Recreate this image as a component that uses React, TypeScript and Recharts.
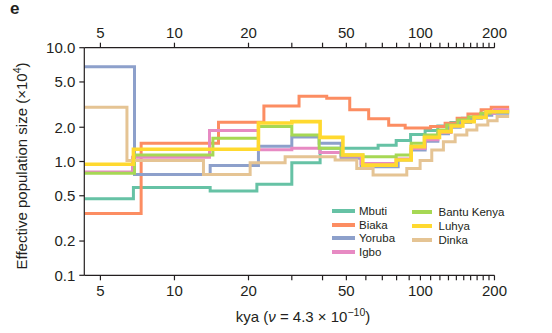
import React from 'react';
import { LineChart, Line, XAxis, YAxis, ReferenceLine } from 'recharts';

// [kya, Ne (x10^4)] step start points
const mbuti: [number, number][] = [[4.3,0.47],[6.81,0.59],[13.97,0.55],[21.63,0.63],[30.0,0.975],[39.1,1.31],[67.3,1.39],[79.7,1.53],[91.2,1.73],[104.5,1.87],[117.7,2.05],[133,2.2],[148,2.4],[165,2.55],[185,2.7],[210,2.8],[230,2.8]];
const biaka: [number, number][] = [[4.3,0.35],[7.32,1.45],[15.1,2.21],[23.1,3.07],[32.1,3.75],[41.6,3.6],[51.6,2.85],[61.6,2.37],[74.3,2.08],[86.7,1.97],[110,2.03],[126,2.17],[141,2.4],[156,2.62],[176.5,2.85],[194,3.0],[230,3.0]];
const yoruba: [number, number][] = [[4.3,6.8],[6.88,0.77],[13.97,0.92],[21.95,1.36],[30.0,1.64],[38.75,1.45],[47.6,1.07],[57.4,0.9],[81.2,1.03],[91.7,1.26],[104.5,1.51],[117.7,1.75],[130,2.0],[145,2.2],[160,2.4],[177,2.55],[195,2.65],[230,2.65]];
const igbo: [number, number][] = [[4.3,0.81],[6.75,1.09],[13.88,1.87],[21.95,1.27],[30,1.31],[39,1.2],[47.6,1.12],[57.4,0.96],[79.7,1.05],[91.7,1.3],[104.5,1.55],[117.7,1.8],[133,2.05],[148,2.25],[165,2.45],[185,2.65],[200,2.85],[230,2.85]];
const bantuKenya: [number, number][] = [[4.3,0.79],[6.88,1.14],[14.33,1.6],[21.95,2.03],[30,1.71],[38.75,1.31],[47.6,1.14],[58.3,1.1],[79.7,1.14],[91.7,1.45],[103.8,1.71],[117.7,1.89],[128,2.09],[142,2.32],[157,2.46],[176,2.65],[192,2.74],[230,2.74]];
const luhya: [number, number][] = [[4.3,0.945],[6.81,1.28],[21.95,2.18],[30,2.24],[39.1,1.63],[48.4,1.14],[58.3,0.93],[79.7,1.03],[91.7,1.35],[103.8,1.63],[119.5,1.83],[133.3,2.05],[148.7,2.24],[165.4,2.44],[184.9,2.74],[230,2.74]];
const dinka: [number, number][] = [[4.3,2.99],[6.41,1.02],[13.12,0.77],[20.31,0.975],[28.18,1.1],[45,1.03],[55.1,0.87],[64.2,0.76],[88,0.87],[99.7,1.02],[111.2,1.26],[124,1.49],[138.4,1.71],[154.4,1.89],[169.6,2.09],[188,2.28],[205,2.48],[230,2.48]];

const seriesNames = ['Mbuti', 'Biaka', 'Yoruba', 'Igbo', 'Bantu Kenya', 'Luhya', 'Dinka'];
const seriesColors = ['#66c2a5', '#fc8d62', '#8da0cb', '#e78ac3', '#a6d854', '#ffd92f', '#e5c494'];
const seriesData = [mbuti, biaka, yoruba, igbo, bantuKenya, luhya, dinka];
const drawOrder = [0, 1, 2, 3, 4, 6, 5];

const xTicks = [5, 10, 20, 30, 40, 50, 60, 70, 80, 90, 100, 110, 120, 130, 140, 150, 160, 170, 180, 190, 200];
const xLabeled = [5, 10, 20, 50, 100, 200];
const yTicks = [0.1, 0.2, 0.5, 1, 2, 5, 10];

const INK = '#231f20';
const FONT = '"Liberation Sans", Arial, Helvetica, sans-serif';

const toData = (pts: [number, number][]) => pts.map(([kya, ne]) => ({ kya, ne }));

const xFmt = (v: number) => (xLabeled.includes(v) ? String(v) : '');

const XLabel = () => (
  <text x={303} y={321.5} textAnchor="middle" fontSize={15} fill={INK} fontFamily={FONT}>
    kya (<tspan fontStyle="italic">ν</tspan> = 4.3 × 10<tspan dy={-6} fontSize={10.5}>−10</tspan><tspan dy={6}>)</tspan>
  </text>
);

const YLabel = () => (
  <text transform="rotate(-90)" x={-166} y={27} textAnchor="middle" fontSize={15} fill={INK} fontFamily={FONT}>
    Effective population size (×10<tspan dy={-6} fontSize={10.5}>4</tspan><tspan dy={6}>)</tspan>
  </text>
);

const legendCol1 = [0, 1, 2, 3];
const legendCol2 = [4, 5, 6];

export default function App() {
  return (
    <div style={{ position: 'absolute', left: 0, top: 0, width: 552, height: 333, background: '#fff', fontFamily: FONT }}>
      <LineChart width={552} height={333} margin={{ top: 0, right: 42.6, bottom: 0, left: 0 }}>
        <XAxis
          xAxisId="b"
          dataKey="kya"
          type="number"
          scale="log"
          domain={[4.3, 230]}
          allowDataOverflow
          ticks={xTicks}
          interval={0}
          tickFormatter={xFmt}
          axisLine={false}
          tickLine={{ stroke: INK, strokeWidth: 1.2 }}
          tickSize={5}
          tickMargin={5}
          height={57.7}
          tick={{ fontSize: 15, fill: INK, fontFamily: FONT }}
          label={<XLabel />}
        />
        <XAxis
          xAxisId="t"
          orientation="top"
          dataKey="kya"
          type="number"
          scale="log"
          domain={[4.3, 230]}
          allowDataOverflow
          ticks={xTicks}
          interval={0}
          tickFormatter={xFmt}
          axisLine={false}
          tickLine={{ stroke: INK, strokeWidth: 1.2 }}
          tickSize={5}
          tickMargin={5}
          height={47.7}
          tick={{ fontSize: 15, fill: INK, fontFamily: FONT }}
        />
        <YAxis
          yAxisId="l"
          type="number"
          scale="log"
          domain={[0.1, 10]}
          allowDataOverflow
          ticks={yTicks}
          interval={0}
          tickFormatter={(v: number) => v.toFixed(1)}
          axisLine={{ stroke: INK, strokeWidth: 1.2 }}
          tickLine={{ stroke: INK, strokeWidth: 1.2 }}
          tickSize={5}
          tickMargin={4}
          width={84.3}
          tick={{ fontSize: 15, fill: INK, fontFamily: FONT }}
          label={<YLabel />}
        />
        <ReferenceLine xAxisId="b" yAxisId="l" segment={[{ x: 4.3, y: 0.1 }, { x: 200, y: 0.1 }]} stroke={INK} strokeWidth={1.2} ifOverflow="visible" />
        <ReferenceLine xAxisId="b" yAxisId="l" segment={[{ x: 4.3, y: 10 }, { x: 200, y: 10 }]} stroke={INK} strokeWidth={1.2} ifOverflow="visible" />
        {drawOrder.map((i) => (
          <Line
            key={seriesNames[i]}
            xAxisId="b"
            yAxisId="l"
            data={toData(seriesData[i])}
            dataKey="ne"
            name={seriesNames[i]}
            type="stepAfter"
            stroke={seriesColors[i]}
            strokeWidth={i === 5 ? 3.6 : 3}
            dot={false}
            activeDot={false}
            isAnimationActive={false}
          />
        ))}
      </LineChart>
      <div style={{ position: 'absolute', left: 10, top: -1, fontSize: 17, fontWeight: 'bold', color: INK }}>e</div>
      {[legendCol1, legendCol2].map((col, ci) =>
        col.map((si, ri) => (
          <div
            key={seriesNames[si]}
            style={{
              position: 'absolute',
              left: ci === 0 ? 332 : 412,
              top: (ci === 0 ? 204 : 205.3) + ri * 13.6,
              height: 14,
              display: 'flex',
              alignItems: 'center',
              fontSize: 11.5,
              color: INK,
              whiteSpace: 'nowrap',
            }}
          >
            <span style={{ display: 'inline-block', width: ci === 0 ? 23 : 20, height: 4, background: seriesColors[si], marginRight: ci === 0 ? 4 : 6.5 }} />
            <span>{seriesNames[si]}</span>
          </div>
        ))
      )}
    </div>
  );
}
